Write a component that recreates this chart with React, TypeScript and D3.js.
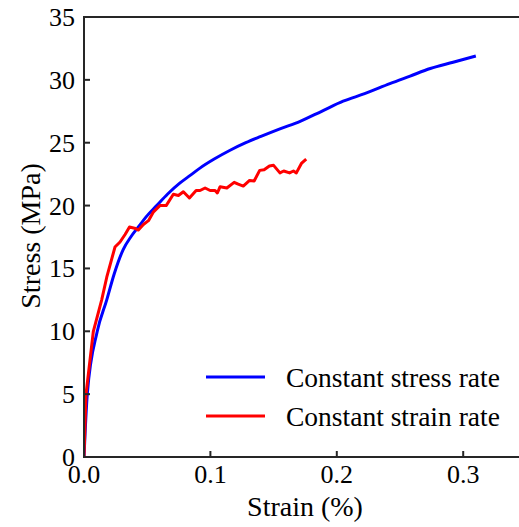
import React from "react";
import * as d3 from "d3";

const stressRateStrain = [0, 0.0026, 0.0105, 0.018, 0.024, 0.031, 0.037, 0.043, 0.05, 0.0575, 0.066, 0.076, 0.084, 0.092, 0.103, 0.1156, 0.128, 0.14, 0.155, 0.171, 0.188, 0.205, 0.222, 0.242, 0.258, 0.274, 0.292, 0.31];
const stressRateStress = [0, 5, 10, 12.5, 14.6, 16.5, 17.5, 18.3, 19.2, 20.0, 20.9, 21.8, 22.4, 23.0, 23.7, 24.4, 25.0, 25.5, 26.1, 26.7, 27.5, 28.3, 28.9, 29.7, 30.3, 30.9, 31.4, 31.9];

const strainRateStrain = [0, 0.0016, 0.0074, 0.014, 0.018, 0.0245, 0.0285, 0.0325, 0.036, 0.04, 0.043, 0.047, 0.051, 0.055, 0.06, 0.065, 0.0707, 0.0747, 0.0786, 0.0834, 0.0887, 0.0918, 0.0958, 0.0998, 0.1037, 0.1055, 0.1077, 0.113, 0.1188, 0.122, 0.126, 0.131, 0.1346, 0.139, 0.1425, 0.1467, 0.15, 0.155, 0.158, 0.1626, 0.1657, 0.168, 0.172, 0.1758];
const strainRateStress = [0, 5, 10, 12.5, 14.3, 16.7, 17.1, 17.7, 18.3, 18.2, 18.05, 18.5, 18.8, 19.5, 20.0, 20.0, 20.9, 20.8, 21.1, 20.6, 21.2, 21.2, 21.4, 21.2, 21.2, 21.0, 21.5, 21.4, 21.85, 21.7, 21.55, 22.0, 21.95, 22.8, 22.85, 23.15, 23.2, 22.6, 22.75, 22.6, 22.75, 22.6, 23.35, 23.7];

const xTicks = [0, 0.1, 0.2, 0.3];
const yTicks = [0, 5, 10, 15, 20, 25, 30, 35];
const seriesNames = ["Constant stress rate", "Constant strain rate"];
const seriesColors = ["#0000ff", "#ff0000"];

const W = 519;
const H = 527;
const FONT = '"Liberation Serif", "Times New Roman", Times, serif';

export default function App() {
  const x = d3.scaleLinear().domain([0, 0.35]).range([84, 84 + 3.5 * 126.4]);
  const y = d3.scaleLinear().domain([0, 35]).range([457, 17]);
  const line = d3
    .line<[number, number]>()
    .x((d) => x(d[0]))
    .y((d) => y(d[1]))
    .curve(d3.curveLinear);
  const smooth = d3
    .line<[number, number]>()
    .x((d) => x(d[0]))
    .y((d) => y(d[1]))
    .curve(d3.curveMonotoneX);

  const blue: [number, number][] = stressRateStrain.map((s, i) => [s, stressRateStress[i]]);
  const red: [number, number][] = strainRateStrain.map((s, i) => [s, strainRateStress[i]]);

  const axisColor = "#262626";
  const x0 = x(0);
  const y0 = y(0);
  const yTop = y(35);

  return (
    <svg
      width={W}
      height={H}
      style={{ position: "absolute", left: 0, top: 0, background: "#fff" }}
    >
      <rect x={0} y={0} width={W} height={H} fill="#fff" />
      <defs>
        <clipPath id="plot">
          <rect x={x0} y={yTop} width={W - x0} height={y0 - yTop} />
        </clipPath>
      </defs>
      <g clipPath="url(#plot)">
        <path d={smooth(blue) || ""} fill="none" stroke={seriesColors[0]} strokeWidth={3} strokeLinejoin="round" />
        <path d={line(red) || ""} fill="none" stroke={seriesColors[1]} strokeWidth={3} strokeLinejoin="round" />
      </g>
      <line x1={x0} x2={W} y1={yTop} y2={yTop} stroke={axisColor} strokeWidth={2} />
      <line x1={x0} x2={x0} y1={yTop - 1} y2={y0 + 1} stroke={axisColor} strokeWidth={2} />
      <line x1={x0 - 1} x2={W} y1={y0} y2={y0} stroke={axisColor} strokeWidth={2} />
      <g fontFamily={FONT} fontSize={26} fill="#000">
        {xTicks.map((t) => (
          <g key={"x" + t}>
            <line x1={x(t)} x2={x(t)} y1={y0} y2={y0 - 6} stroke={axisColor} strokeWidth={2} />
            <text x={x(t)} y={483} textAnchor="middle">
              {t.toFixed(1)}
            </text>
          </g>
        ))}
        {yTicks.map((t) => (
          <g key={"y" + t}>
            <line x1={x0} x2={x0 + 6} y1={y(t)} y2={y(t)} stroke={axisColor} strokeWidth={2} />
            <text x={75} y={y(t) + 9} textAnchor="end">
              {t}
            </text>
          </g>
        ))}
        <text x={305} y={516} textAnchor="middle" fontSize={28}>
          Strain (%)
        </text>
        <text transform={`translate(40, 236) rotate(-90)`} textAnchor="middle" fontSize={28}>
          Stress (MPa)
        </text>
        {seriesNames.map((n, i) => (
          <g key={n}>
            <line x1={206} x2={265} y1={377 + i * 39} y2={377 + i * 39} stroke={seriesColors[i]} strokeWidth={3} />
            <text x={286} y={387 + i * 39} fontSize={27.5}>
              {n}
            </text>
          </g>
        ))}
      </g>
    </svg>
  );
}
